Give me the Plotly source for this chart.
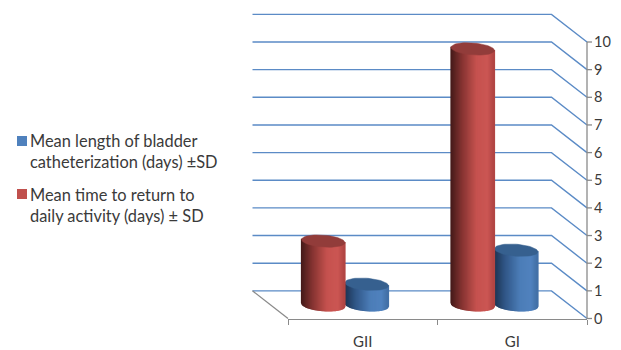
import numpy as np
import plotly.graph_objects as go

categories = ["GII", "GI"]
series_blue_name = "Mean length of bladder<br>catheterization (days) ±SD"
series_red_name = "Mean time to return to<br>daily activity (days) ± SD"
blue_values = [0.74, 1.97]
red_values = [2.3, 9.25]
y_ticks = list(range(0, 11))

PAGE = 8                  # the page's own margin around the figure
W, H = 621 - PAGE, 350 - PAGE
L, R, T, B = 288 - PAGE, 587 - PAGE, 42 - PAGE, 318.5 - PAGE
PX_X = (R - L) / 2.0      # pixels per x unit
PX_Y = (B - T) / 10.0     # pixels per y unit
DEPTH_X = -35.5 / PX_X    # back wall shift in data units
DEPTH_Y = 27.65 / PX_Y
FONT = "Lato"
TEXT = "#3a3a3a"
BLUE_LINE = "#5b8bc6"
GREY = "#8a8a8a"


def page_x(px):
    return (px - PAGE) / W


def page_y(py):
    return 1 - (py - PAGE) / H


fig = go.Figure()

# full-page axes on the same scale as the visible ones, so the 3D wall can leave the plot box
SCENE = dict(xaxis="x2", yaxis="y2", mode="lines", showlegend=False, hoverinfo="skip")

gx, gy = [], []
for v in y_ticks:
    gx += [-0.5 + DEPTH_X, 1.5 + DEPTH_X, 1.5, None]
    gy += [v + DEPTH_Y, v + DEPTH_Y, v, None]
fig.add_trace(go.Scatter(x=gx, y=gy, line=dict(color=BLUE_LINE, width=1.4), **SCENE))
fig.add_trace(go.Scatter(x=[-0.5 + DEPTH_X, -0.5], y=[DEPTH_Y, 0],
                         line=dict(color=GREY, width=1.3), **SCENE))

# value axis line and its tick marks
ax_x, ax_y = [1.5, 1.5, None], [y_ticks[0], y_ticks[-1], None]
for v in y_ticks:
    ax_x += [1.5, 1.5 + 5 / PX_X, None]
    ax_y += [v, v, None]
fig.add_trace(go.Scatter(x=ax_x, y=ax_y, line=dict(color=GREY, width=1.3), **SCENE))


def lerp_stops(stops, t):
    ts = [s[0] for s in stops]
    rgb = [np.interp(t, ts, [s[1][i] for s in stops]) for i in range(3)]
    return "rgb(%d,%d,%d)" % tuple(int(round(c)) for c in rgb)


RED_STOPS = [(0, (66, 26, 25)), (0.25, (130, 50, 48)), (0.6, (198, 82, 79)),
             (0.85, (203, 86, 83)), (1, (176, 68, 66))]
BLUE_STOPS = [(0, (28, 50, 80)), (0.25, (48, 86, 134)), (0.6, (76, 125, 184)),
              (0.85, (80, 130, 190)), (1, (66, 110, 165))]


def cylinder(center, value, stops, top_color):
    half_w = 0.1455
    ry = 6.0 / PX_Y
    tilt = 1.6 / PX_Y
    cx = center + DEPTH_X / 2
    base = DEPTH_Y / 2
    top = value + base
    n = 44
    edges = np.linspace(-1, 1, n + 1)

    def arc(u):
        return ry * np.sqrt(np.clip(1 - u ** 2, 0, 1))

    for i in range(n):
        u0, u1 = edges[i], edges[i + 1]
        xs = [cx + half_w * u0, cx + half_w * u1, cx + half_w * u1, cx + half_w * u0, cx + half_w * u0]
        ys = [base - arc(u0) - tilt * u0, base - arc(u1) - tilt * u1,
              top - tilt * u1, top - tilt * u0, base - arc(u0) - tilt * u0]
        col = lerp_stops(stops, (i + 0.5) / n)
        fig.add_trace(go.Scatter(x=xs, y=ys, fill="toself", fillcolor=col,
                                 line=dict(color=col, width=1.2), **SCENE))
    a = np.linspace(0, 2 * np.pi, 60)
    ex = cx + half_w * np.cos(a)
    ey = top + ry * np.sin(a) - tilt * np.cos(a)
    fig.add_trace(go.Scatter(x=ex, y=ey, fill="toself", fillcolor=top_color,
                             line=dict(color=top_color, width=0.5), **SCENE))


for i in range(len(categories)):
    cylinder(i + 0.1455, blue_values[i], BLUE_STOPS, "#36608f")
    cylinder(i - 0.1455, red_values[i], RED_STOPS, "#923c3a")

# keeps the visible axes alive
fig.add_trace(go.Scatter(x=[None], y=[None], xaxis="x", yaxis="y", mode="markers",
                         showlegend=False, hoverinfo="skip"))


def legend_entry(text, color, y_text, y_box):
    fig.add_annotation(xref="paper", yref="paper", x=page_x(30), y=page_y(y_text), text=text,
                       showarrow=False, xanchor="left", yanchor="middle", align="left",
                       font=dict(size=16.4, family=FONT, color=TEXT), borderpad=0, borderwidth=0)
    fig.add_shape(type="rect", xref="paper", yref="paper", x0=page_x(17), x1=page_x(27),
                  y0=page_y(y_box + 5), y1=page_y(y_box - 5), fillcolor=color, line_width=0)


legend_entry(series_blue_name, "#4f81bd", 151.5, 141)
legend_entry(series_red_name, "#c0504d", 205, 194)

fig.update_layout(
    width=W, height=H, autosize=False, showlegend=False,
    paper_bgcolor="white", plot_bgcolor="rgba(0,0,0,0)",
    margin=dict(l=0, r=0, t=0, b=0, pad=0, autoexpand=False),
    font=dict(family=FONT, size=15, color=TEXT),
    xaxis=dict(domain=[L / W, R / W], range=[-0.5, 1.5], tickmode="array", tickvals=[0, 1],
               ticktext=categories, ticks="", showgrid=False, zeroline=False, showline=True,
               linecolor=GREY, linewidth=1.3, ticklabelstandoff=9,
               tickfont=dict(size=15, family=FONT, color=TEXT),
               minor=dict(tickmode="array", tickvals=[-0.5, 0.5, 1.5], ticks="outside",
                          ticklen=5, tickcolor=GREY, tickwidth=1.2, showgrid=False)),
    yaxis=dict(domain=[1 - B / H, 1 - T / H], range=[0, 10], side="right", tickmode="array",
               tickvals=y_ticks, ticks="", showgrid=False, zeroline=False, showline=False,
               ticklabelstandoff=6, ticklabeloverflow="allow",
               tickfont=dict(size=14.5, family=FONT, color=TEXT)),
    xaxis2=dict(domain=[0, 1], range=[-0.5 - L / PX_X, 1.5 + (W - R) / PX_X], visible=False,
                anchor="y2"),
    yaxis2=dict(domain=[0, 1], range=[-(H - B) / PX_Y, 10 + T / PX_Y], visible=False,
                anchor="x2"),
)
fig.write_html("out.html", default_width=f"{W}px", default_height=f"{H}px")
